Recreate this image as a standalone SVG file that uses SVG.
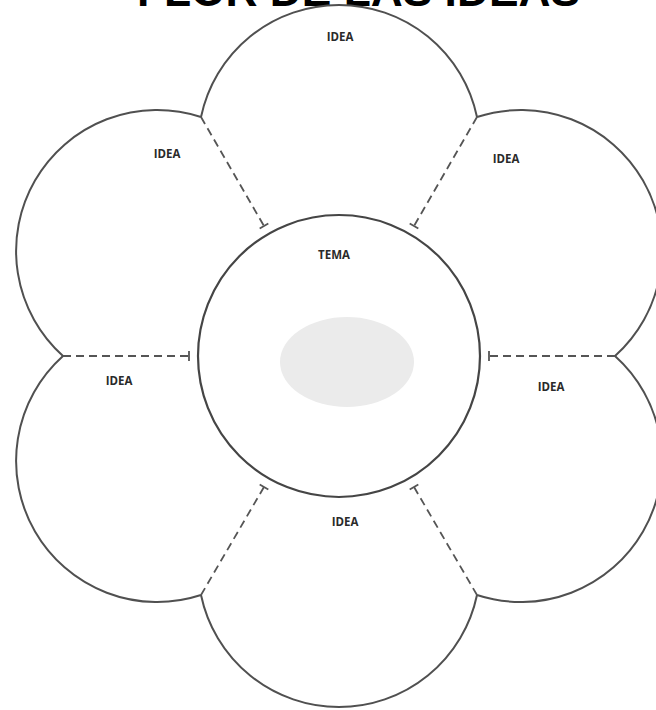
<svg xmlns="http://www.w3.org/2000/svg" width="656" height="710" viewBox="0 0 656 710">
  <defs>
    <style>
      .petal { fill: none; stroke: #505050; stroke-width: 2; }
      .core { fill: #ffffff; stroke: #454545; stroke-width: 2.2; }
      .dash { fill: none; stroke: #555555; stroke-width: 1.8; stroke-dasharray: 8 5; marker-end: url(#tee); }
      .lbl { font-family: "Open Sans", "Liberation Sans", sans-serif; font-weight: bold; font-size: 11.5px; fill: #2a2a2a; text-anchor: middle; }
      .title { font-family: "Liberation Sans", Arial, sans-serif; font-weight: 900; font-size: 44px; fill: #000000; }
    </style>
    <marker id="tee" viewBox="-6 -6 12 12" refX="0" refY="0" markerWidth="12" markerHeight="12" markerUnits="userSpaceOnUse" orient="auto">
      <path d="M0,-5 V5" stroke="#555555" stroke-width="1.8" fill="none"/>
    </marker>
  </defs>
  <rect x="0" y="0" width="656" height="710" fill="#ffffff"/>

  <text class="title" x="137" y="6" textLength="443" lengthAdjust="spacingAndGlyphs">FLOR DE LAS IDEAS</text>

  <g id="petal-top">
    <path class="petal" d="M201,117 A141,141 0 0 1 477,117"/>
    <text class="lbl" x="340" y="41">IDEA</text>
  </g>
  <g id="petal-upper-right">
    <path class="petal" d="M477,117 A141,141 0 0 1 615,356"/>
    <text class="lbl" x="506" y="163">IDEA</text>
  </g>
  <g id="petal-lower-right">
    <path class="petal" d="M615,356 A141,141 0 0 1 477,595"/>
    <text class="lbl" x="551" y="391">IDEA</text>
  </g>
  <g id="petal-bottom">
    <path class="petal" d="M477,595 A141,141 0 0 1 201,595"/>
    <text class="lbl" x="345" y="526">IDEA</text>
  </g>
  <g id="petal-lower-left">
    <path class="petal" d="M201,595 A141,141 0 0 1 63,356"/>
    <text class="lbl" x="119" y="385">IDEA</text>
  </g>
  <g id="petal-upper-left">
    <path class="petal" d="M63,356 A141,141 0 0 1 201,117"/>
    <text class="lbl" x="167" y="158">IDEA</text>
  </g>

  <g id="connectors">
    <line class="dash" x1="615" y1="356" x2="489" y2="356"/>
    <line class="dash" x1="477" y1="117" x2="414" y2="226"/>
    <line class="dash" x1="201" y1="117" x2="264" y2="226"/>
    <line class="dash" x1="63" y1="356" x2="189" y2="356"/>
    <line class="dash" x1="201" y1="595" x2="264" y2="487"/>
    <line class="dash" x1="477" y1="595" x2="414" y2="487"/>
  </g>

  <g id="tema">
    <circle class="core" cx="339" cy="356" r="141"/>
    <ellipse cx="347" cy="362" rx="67" ry="45" fill="#ebebeb"/>
    <text class="lbl" x="334" y="259">TEMA</text>
  </g>
</svg>
